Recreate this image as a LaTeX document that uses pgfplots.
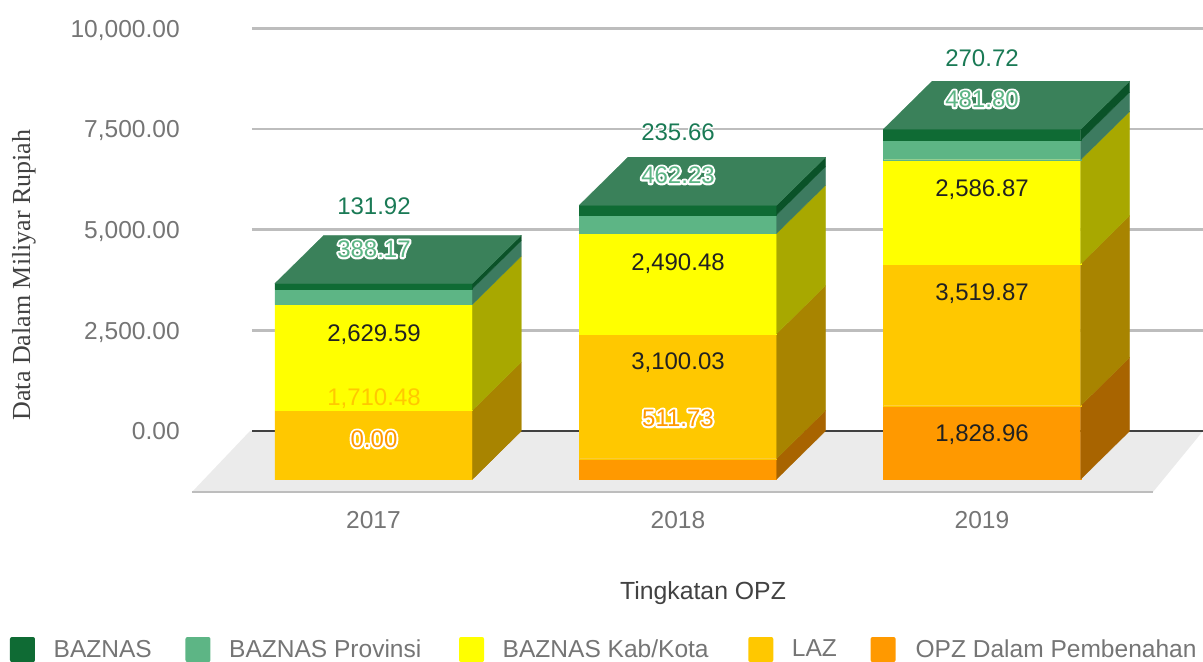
\documentclass[border=0pt]{standalone}
\usepackage{pgfplots}
\pgfplotsset{compat=1.18}
\usepackage{fontspec}
\setmainfont{Liberation Sans}
\newfontfamily\serifface{Liberation Serif}
\definecolor{cBaz}{HTML}{0F6B34}
\definecolor{cBazS}{HTML}{0A5228}
\definecolor{cTop}{HTML}{3A815A}
\definecolor{cProv}{HTML}{5DB585}
\definecolor{cProvS}{HTML}{3D7B60}
\definecolor{cKab}{HTML}{FFFF00}
\definecolor{cKabS}{HTML}{A8A800}
\definecolor{cLaz}{HTML}{FFC800}
\definecolor{cLazS}{HTML}{A88400}
\definecolor{cOpz}{HTML}{FF9900}
\definecolor{cOpzS}{HTML}{A86400}
\definecolor{cGrid}{HTML}{BDBDBD}
\definecolor{cTick}{HTML}{757575}
\definecolor{cDark}{HTML}{212121}
\definecolor{cFloor}{HTML}{EBEBEB}
\definecolor{cTeal}{HTML}{1A7A55}
\newcommand\dpth{1199}
% #1 left x, #2 value low, #3 value high, #4 front colour, #5 side colour
\newcommand\seg[5]{%
  \addplot[forget plot,fill=#4,draw=#4,line width=0.15pt,mark=none] coordinates {({#1},{#2-\dpth}) ({#1+197.5},{#2-\dpth}) ({#1+197.5},{#3-\dpth}) ({#1},{#3-\dpth}) ({#1},{#2-\dpth})};
  \addplot[forget plot,fill=#5,draw=#5,line width=0.15pt,mark=none] coordinates {({#1+197.5},{#2-\dpth}) ({#1+246.5},{#2}) ({#1+246.5},{#3}) ({#1+197.5},{#3-\dpth}) ({#1+197.5},{#2-\dpth})};
}
\newcommand\topface[2]{%
  \addplot[forget plot,fill=cTop,draw=cTop,line width=0.15pt,mark=none] coordinates {({#1},{#2-\dpth}) ({#1+49},{#2}) ({#1+246.5},{#2}) ({#1+197.5},{#2-\dpth}) ({#1},{#2-\dpth})};
}
\newcommand\gridl[1]{\addplot[forget plot,cGrid,line width=1.9pt,mark=none] coordinates {(252,#1) (1203,#1)};}
\newcommand\lab[4]{\node[text=#4,inner sep=0pt,yshift=-1.5pt,font=\fontsize{18}{20}\selectfont] at (axis cs:#1,#2) {#3};}
% #1 stroke width, #2 x, #3 y, #4 text, #5 colour
\newcommand\hlab[5][3]{\node[inner sep=0pt,font=\fontsize{18}{20}\selectfont] at (axis cs:#2,#3) {\makebox[0pt][c]{\special{pdf:code 2 Tr 1 j #1 w}\textcolor{white}{#4}\special{pdf:code 0 Tr 0 j}}\makebox[0pt][c]{\textcolor{#5}{#4}}\vphantom{0}};}
\begin{document}
\begin{tikzpicture}
\begin{axis}[
  name=ax,
  scale only axis,
  width=758.25pt,height=361.5pt,
  xmin=192,xmax=1203,ymin=-1515,ymax=10454,
  clip=false,
  axis line style={draw=none},
  major tick length=0pt,
  xtick={373.5,678,982},
  xticklabels={2017,2018,2019},
  ytick={0,2500,5000,7500,10000},
  yticklabels={{0.00\vphantom{,}},{2,500.00},{5,000.00},{7,500.00},{10,000.00}},
  tick label style={font=\fontsize{18.4}{20}\selectfont,text=cTick,inner sep=0pt},
  xticklabel style={yshift=-14pt},
  yticklabel style={xshift=-9pt,yshift=-1.5pt},
  xlabel={Tingkatan OPZ},
  xlabel style={at={(axis cs:703,-4023)},anchor=center,font=\fontsize{18.6}{20}\selectfont,text=cDark!85,inner sep=0pt},
  ylabel={Data Dalam Miliyar Rupiah},
  ylabel style={at={(axis cs:24,3874)},anchor=center,font=\fontsize{19.5}{22}\serifface\selectfont,text=cDark!85,inner sep=0pt},
  legend columns=5,
  legend image code/.code={\fill[#1,draw=none,rounded corners=1.5pt] (0pt,-9.4pt) rectangle (18.75pt,9.4pt);},
  legend style={
    draw=none,fill=none,inner sep=0pt,outer sep=0pt,
    at={(axis cs:10,-5115)},anchor=north west,
    font=\fontsize{18.4}{20}\selectfont,text=cTick,
    /tikz/column 1/.style={column sep=12pt},
    /tikz/column 2/.style={column sep=23.25pt},
    /tikz/column 3/.style={column sep=12pt},
    /tikz/column 4/.style={column sep=26.25pt},
    /tikz/column 5/.style={column sep=12pt},
    /tikz/column 6/.style={column sep=27.75pt},
    /tikz/column 7/.style={column sep=12pt},
    /tikz/column 8/.style={column sep=23.25pt},
    /tikz/column 9/.style={column sep=13pt},
  },
  legend cell align=left,
]
% floor
\addplot[forget plot,fill=cFloor,draw=none,mark=none] coordinates {(192,-1515) (250,0) (1203,0) (1153,-1515) (192,-1515)};
\addplot[forget plot,color=cGrid,line width=1.2pt,mark=none] coordinates {(192,-1515) (1153,-1515)};
% grid
\gridl{2500}\gridl{5000}\gridl{7500}\gridl{10000}
\addplot[forget plot,color=black!75,line width=1.9pt,mark=none] coordinates {(252,0) (1203,0)};
% 2017
\seg{274.8}{0}{0}{cOpz}{cOpzS}
\seg{274.8}{0}{1710.48}{cLaz}{cLazS}
\seg{274.8}{1710.48}{4340.07}{cKab}{cKabS}
\seg{274.8}{4340.07}{4728.24}{cProv}{cProvS}
\seg{274.8}{4728.24}{4860.16}{cBaz}{cBazS}
\topface{274.8}{4860.16}
% 2018
\seg{579}{0}{511.73}{cOpz}{cOpzS}
\seg{579}{511.73}{3611.76}{cLaz}{cLazS}
\seg{579}{3611.76}{6102.24}{cKab}{cKabS}
\seg{579}{6102.24}{6564.47}{cProv}{cProvS}
\seg{579}{6564.47}{6800.13}{cBaz}{cBazS}
\topface{579}{6800.13}
% 2019
\seg{883.2}{0}{1828.96}{cOpz}{cOpzS}
\seg{883.2}{1828.96}{5348.83}{cLaz}{cLazS}
\seg{883.2}{5348.83}{7935.70}{cKab}{cKabS}
\seg{883.2}{7935.70}{8417.50}{cProv}{cProvS}
\seg{883.2}{8417.50}{8688.22}{cBaz}{cBazS}
\topface{883.2}{8688.22}
% legend
\addlegendimage{fill=cBaz}\addlegendentry{BAZNAS\vphantom{Pp}}
\addlegendimage{fill=cProv}\addlegendentry{BAZNAS Provinsi\vphantom{Pp}}
\addlegendimage{fill=cKab}\addlegendentry{BAZNAS Kab/Kota\vphantom{Pp}}
\addlegendimage{fill=cLaz}\addlegendentry{LAZ\vphantom{Pp}}
\addlegendimage{fill=cOpz}\addlegendentry{OPZ Dalam Pembenahan\vphantom{Pp}}
% labels
\hlab[2]{374}{5587}{131.92}{cTeal}
\hlab{374}{4519}{388.17}{cProv}
\lab{374}{2434}{2,629.59}{cDark}
\lab{374}{844}{1,710.48}{cLaz}
\hlab{374}{-199}{0.00}{cOpz}
\hlab[2]{678}{7425}{235.66}{cTeal}
\hlab{678}{6357}{462.23}{cProv}
\lab{678}{4197}{2,490.48}{cDark}
\lab{678}{1738}{3,100.03}{cDark}
\hlab{678}{323}{511.73}{cOpz}
\hlab[2]{982}{9262}{270.72}{cTeal}
\hlab{982}{8244}{481.80}{cProv}
\lab{982}{6034}{2,586.87}{cDark}
\lab{982}{3452}{3,519.87}{cDark}
\lab{982}{-50}{1,828.96}{cDark}
\end{axis}
\pgfresetboundingbox
\path[use as bounding box] ([xshift=-144pt,yshift=-126.75pt]ax.south west) rectangle ++(902.25pt,495.75pt);
\end{tikzpicture}
\end{document}
